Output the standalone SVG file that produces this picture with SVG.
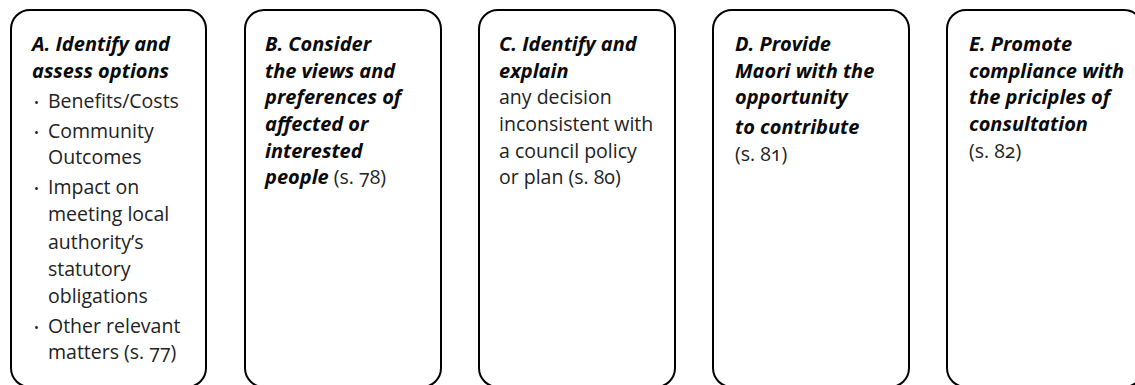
<svg xmlns="http://www.w3.org/2000/svg" width="1135" height="385" viewBox="0 0 1135 385">
  <style>
    .frame { fill: #fff; stroke: #000; stroke-width: 2; }
    .head { font-family: "Open Sans", "Liberation Sans", sans-serif; font-weight: 700; font-style: italic; font-size: 20px; fill: #0a0a0a; }
    .body { font-family: "Open Sans", "Liberation Sans", sans-serif; font-size: 19.5px; fill: #222; font-variant-numeric: oldstyle-nums; }
    .dot { font-family: "Open Sans", "Liberation Sans", sans-serif; font-size: 13px; fill: #222; }
  </style>
  <rect width="1135" height="385" fill="#fff"/>

  <!-- A: options -->
  <g id="box-a">
    <rect class="frame" x="11" y="10" width="195" height="377" rx="19"/>
    <text class="head" x="32" y="51">A. Identify and</text>
    <text class="head" x="32" y="78">assess options</text>
    <text class="dot" x="34" y="107">•</text>
    <text class="body" x="48" y="108">Benefits/Costs</text>
    <text class="dot" x="34" y="137">•</text>
    <text class="body" x="48" y="138">Community</text>
    <text class="body" x="48" y="164">Outcomes</text>
    <text class="dot" x="34" y="193">•</text>
    <text class="body" x="48" y="194">Impact on</text>
    <text class="body" x="48" y="221">meeting local</text>
    <text class="body" x="48" y="249">authority’s</text>
    <text class="body" x="48" y="276">statutory</text>
    <text class="body" x="48" y="303">obligations</text>
    <text class="dot" x="34" y="332">•</text>
    <text class="body" x="48" y="333">Other relevant</text>
    <text class="body" x="48" y="359">matters (s. 77)</text>
  </g>

  <!-- B: views and preferences -->
  <g id="box-b">
    <rect class="frame" x="245" y="10" width="196" height="377" rx="19"/>
    <text class="head" x="265" y="51">B. Consider</text>
    <text class="head" x="265" y="78">the views and</text>
    <text class="head" x="265" y="104">preferences of</text>
    <text class="head" x="265" y="131">affected or</text>
    <text class="head" x="265" y="158">interested</text>
    <text x="265" y="184"><tspan class="head">people</tspan><tspan class="body"> (s. 78)</tspan></text>
  </g>

  <!-- C: inconsistent decisions -->
  <g id="box-c">
    <rect class="frame" x="479" y="10" width="196" height="377" rx="19"/>
    <text class="head" x="499" y="51">C. Identify and</text>
    <text class="head" x="499" y="78">explain</text>
    <text class="body" x="499" y="104">any decision</text>
    <text class="body" x="499" y="131">inconsistent with</text>
    <text class="body" x="499" y="158">a council policy</text>
    <text class="body" x="499" y="184">or plan (s. 80)</text>
  </g>

  <!-- D: Maori contribution -->
  <g id="box-d">
    <rect class="frame" x="713" y="10" width="196" height="377" rx="19"/>
    <text class="head" x="735" y="51">D. Provide</text>
    <text class="head" x="735" y="78">Maori with the</text>
    <text class="head" x="735" y="104">opportunity</text>
    <text class="head" x="735" y="134">to contribute</text>
    <text class="body" x="735" y="161">(s. 81)</text>
  </g>

  <!-- E: principles of consultation -->
  <g id="box-e">
    <rect class="frame" x="947" y="10" width="196" height="377" rx="19"/>
    <text class="head" x="969" y="51">E. Promote</text>
    <text class="head" x="969" y="78">compliance with</text>
    <text class="head" x="969" y="104">the priciples of</text>
    <text class="head" x="969" y="131">consultation</text>
    <text class="body" x="969" y="158">(s. 82)</text>
  </g>
</svg>
